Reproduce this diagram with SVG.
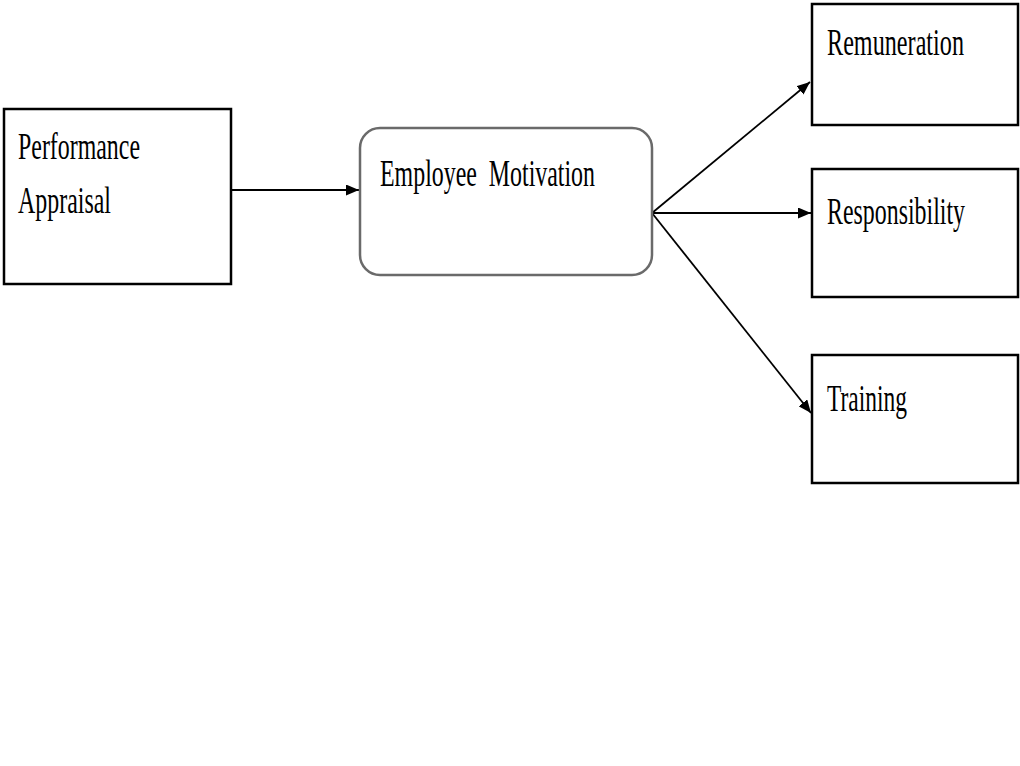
<svg xmlns="http://www.w3.org/2000/svg" width="1020" height="766" viewBox="0 0 1020 766">
<style>
.box{fill:#fff;stroke:#000;stroke-width:2.5}
.rbox{fill:#fff;stroke:#6a6a6a;stroke-width:2.5}
.lbl{font-family:"Liberation Serif",serif;font-size:29px;fill:#000}
.con{stroke:#000;stroke-width:1.8;fill:none;marker-end:url(#ah)}
</style>
<defs>
<marker id="ah" viewBox="0 0 13 11" refX="13" refY="5.5" markerWidth="13" markerHeight="11" markerUnits="userSpaceOnUse" orient="auto">
<path d="M0,0 L13,5.5 L0,11 Z" fill="#000"/>
</marker>
</defs>
<rect width="1020" height="766" fill="#fff"/>
<g id="connectors">
<line class="con" x1="231" y1="190" x2="359" y2="190"/>
<line class="con" x1="652" y1="213" x2="810" y2="82"/>
<line class="con" x1="652" y1="213" x2="811" y2="213"/>
<line class="con" x1="652" y1="213" x2="811" y2="413"/>
</g>
<g id="performance-appraisal">
<rect class="box" x="4" y="109" width="227" height="175"/>
<text class="lbl" transform="translate(18,159) scale(1,1.3)" textLength="122" lengthAdjust="spacingAndGlyphs">Performance</text>
<text class="lbl" transform="translate(18,213) scale(1,1.3)" textLength="93" lengthAdjust="spacingAndGlyphs">Appraisal</text>
</g>
<g id="employee-motivation">
<rect class="rbox" x="360" y="128" width="292" height="147" rx="20" ry="20"/>
<text class="lbl" transform="translate(380,186) scale(1,1.3)" textLength="215" lengthAdjust="spacingAndGlyphs" xml:space="preserve">Employee  Motivation</text>
</g>
<g id="remuneration">
<rect class="box" x="812" y="4" width="206" height="121"/>
<text class="lbl" transform="translate(827,55) scale(1,1.3)" textLength="137" lengthAdjust="spacingAndGlyphs">Remuneration</text>
</g>
<g id="responsibility">
<rect class="box" x="812" y="169" width="206" height="128"/>
<text class="lbl" transform="translate(827,224) scale(1,1.3)" textLength="138" lengthAdjust="spacingAndGlyphs">Responsibility</text>
</g>
<g id="training">
<rect class="box" x="812" y="355" width="206" height="128"/>
<text class="lbl" transform="translate(827,411) scale(1,1.3)" textLength="80" lengthAdjust="spacingAndGlyphs">Training</text>
</g>
</svg>
